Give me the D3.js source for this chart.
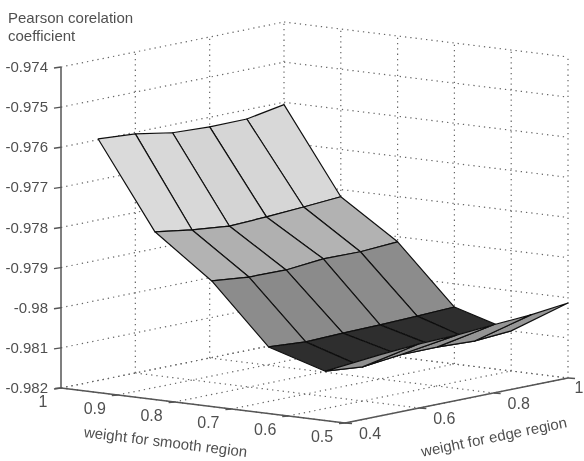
<!DOCTYPE html>
<html>
<head>
<meta charset="utf-8">
<script src="https://cdn.jsdelivr.net/npm/d3@7"></script>
<style>
  html, body { margin: 0; padding: 0; background: #fff; overflow: hidden; }
  text { font-family: "Liberation Sans", Arial, sans-serif; fill: #505050; }
</style>
</head>
<body>
<div id="chart"></div>
<script>
// Step 1: Data
// ==============================================================================
var smoothWeights = [1, 0.9, 0.8, 0.7, 0.6, 0.5];
var edgeWeights = [0.5, 0.6, 0.7, 0.8, 0.9, 1];

var rowSmooth10 = [-0.97598, -0.97604, -0.97620, -0.97624, -0.97623, -0.97606];
var rowSmooth09 = [-0.97812, -0.97826, -0.97835, -0.97831, -0.97825, -0.97818];
var rowSmooth08 = [-0.97917, -0.97926, -0.97927, -0.97918, -0.97919, -0.97913];
var rowSmooth07 = [-0.98064, -0.98070, -0.98067, -0.98065, -0.98062, -0.98058];
var rowSmooth06 = [-0.98107, -0.98115, -0.98104, -0.98103, -0.98107, -0.98100];
var rowSmooth05 = [-0.98047, -0.98040, -0.98037, -0.98030, -0.98024, -0.98013];
var surfaceRows = [rowSmooth10, rowSmooth09, rowSmooth08, rowSmooth07, rowSmooth06, rowSmooth05];

var zTicks = [-0.974, -0.975, -0.976, -0.977, -0.978, -0.979, -0.98, -0.981, -0.982];
var zTickLabels = ["-0.974", "-0.975", "-0.976", "-0.977", "-0.978", "-0.979", "-0.98", "-0.981", "-0.982"];
var smoothTicks = [1, 0.9, 0.8, 0.7, 0.6, 0.5];
var smoothTickLabels = ["1", "0.9", "0.8", "0.7", "0.6", "0.5"];
var edgeTicks = [0.4, 0.6, 0.8, 1];
var edgeTickLabels = ["0.4", "0.6", "0.8", "1"];

// Step 2: Set up the svg
// ==============================================================================
var svgWidth = 584;
var svgHeight = 461;

var svg = d3.select("#chart")
  .append("svg")
  .attr("width", svgWidth)
  .attr("height", svgHeight)
  .style("display", "block");

// the reference is a soft scan, a small blur gets the same look
svg.append("defs").append("filter")
  .attr("id", "soft")
  .attr("x", 0).attr("y", 0).attr("width", "100%").attr("height", "100%")
  .append("feGaussianBlur")
  .attr("stdDeviation", 0.6);

var chartGroup = svg.append("g").attr("filter", "url(#soft)");

chartGroup.append("rect")
  .attr("width", svgWidth)
  .attr("height", svgHeight)
  .attr("fill", "#fff");

// Step 3: Scales. The plot is an orthographic projection, so each data axis
// adds its own screen offset
// ==============================================================================
var edgeToX = d3.scaleLinear().domain([0.4, 1]).range([0, 223]);
var edgeToY = d3.scaleLinear().domain([0.4, 1]).range([0, -45]);
var smoothToX = d3.scaleLinear().domain([1, 0.5]).range([0, 284]);
var smoothToY = d3.scaleLinear().domain([1, 0.5]).range([0, 35]);
var zToY = d3.scaleLinear().domain([-0.982, -0.974]).range([0, -321]);

var originX = 61;
var originY = 388;

function project(edge, smooth, z) {
  return [
    originX + edgeToX(edge) + smoothToX(smooth),
    originY + edgeToY(edge) + smoothToY(smooth) + zToY(z)
  ];
}

var grayScale = d3.scaleLinear()
  .domain([-0.981, -0.9807, -0.9806, -0.9792, -0.9782])
  .range([46, 138, 141, 178, 218])
  .clamp(true);

var line = d3.line();

// Step 4: Walls and floor grid
// ==============================================================================
var zMin = -0.982;
var zMax = -0.974;

function gridLine(a, b) {
  chartGroup.append("path")
    .attr("d", line([a, b]))
    .attr("fill", "none")
    .attr("stroke", "#666")
    .attr("stroke-width", 1.2)
    .attr("stroke-dasharray", "1.3 4");
}

zTicks.forEach(function(z) {
  gridLine(project(0.4, 1, z), project(1, 1, z));
  gridLine(project(1, 1, z), project(1, 0.5, z));
});

edgeTicks.forEach(function(e) {
  if (e > 0.4) gridLine(project(e, 1, zMin), project(e, 1, zMax));
  gridLine(project(e, 1, zMin), project(e, 0.5, zMin));
});

smoothTicks.forEach(function(s) {
  if (s < 1) gridLine(project(1, s, zMin), project(1, s, zMax));
  gridLine(project(0.4, s, zMin), project(1, s, zMin));
});

// Step 5: Axes
// ==============================================================================
function axisLine(a, b) {
  chartGroup.append("path")
    .attr("d", line([a, b]))
    .attr("fill", "none")
    .attr("stroke", "#555")
    .attr("stroke-width", 1.5);
}

axisLine(project(0.4, 1, zMin), project(0.4, 1, zMax));
axisLine(project(0.4, 1, zMin), project(0.4, 0.5, zMin));
axisLine(project(0.4, 0.5, zMin), project(1, 0.5, zMin));

zTicks.forEach(function(z, i) {
  var p = project(0.4, 1, z);
  axisLine(p, [p[0] - 7, p[1] + 1]);
  chartGroup.append("text")
    .attr("x", p[0] - 13)
    .attr("y", p[1] + 5)
    .attr("text-anchor", "end")
    .attr("font-size", 15)
    .text(zTickLabels[i]);
});

smoothTicks.forEach(function(s, i) {
  var p = project(0.4, s, zMin);
  axisLine(p, [p[0] - 6, p[1] + 0.5]);
  chartGroup.append("text")
    .attr("x", p[0] - (s === 1 ? 18 : 23))
    .attr("y", p[1] + (s === 1 ? 19 : 19))
    .attr("text-anchor", "middle")
    .attr("font-size", 16)
    .text(smoothTickLabels[i]);
});

edgeTicks.forEach(function(e, i) {
  var p = project(e, 0.5, zMin);
  axisLine(p, [p[0] + 7, p[1] + 0.5]);
  chartGroup.append("text")
    .attr("x", p[0] + (e === 1 ? 11 : 25))
    .attr("y", p[1] + (e === 1 ? 15 : 16))
    .attr("text-anchor", "middle")
    .attr("font-size", 16)
    .text(edgeTickLabels[i]);
});

// Step 6: Surface, painted back to front
// ==============================================================================
var surfaceGroup = chartGroup.append("g");

for (var r = 0; r < smoothWeights.length - 1; r++) {
  for (var c = edgeWeights.length - 2; c >= 0; c--) {
    var corners = [
      project(edgeWeights[c], smoothWeights[r], surfaceRows[r][c]),
      project(edgeWeights[c + 1], smoothWeights[r], surfaceRows[r][c + 1]),
      project(edgeWeights[c + 1], smoothWeights[r + 1], surfaceRows[r + 1][c + 1]),
      project(edgeWeights[c], smoothWeights[r + 1], surfaceRows[r + 1][c])
    ];
    var level = surfaceRows[r + 1][c];
    var g = Math.round(grayScale(level));
    surfaceGroup.append("path")
      .attr("d", line(corners) + "Z")
      .attr("fill", d3.rgb(g, g, g))
      .attr("stroke", "#111")
      .attr("stroke-width", 1.2)
      .attr("stroke-linejoin", "round");
  }
}

// Step 7: Titles
// ==============================================================================
chartGroup.append("text")
  .attr("x", 8).attr("y", 23)
  .attr("font-size", 15)
  .text("Pearson corelation");

chartGroup.append("text")
  .attr("x", 8).attr("y", 41)
  .attr("font-size", 15)
  .text("coefficient");

chartGroup.append("text")
  .attr("transform", "translate(165, 447) rotate(7)")
  .attr("text-anchor", "middle")
  .attr("font-size", 15)
  .text("weight for smooth region");

chartGroup.append("text")
  .attr("transform", "translate(495, 442) rotate(-11.5)")
  .attr("text-anchor", "middle")
  .attr("font-size", 15)
  .text("weight for edge region");
</script>
</body>
</html>
